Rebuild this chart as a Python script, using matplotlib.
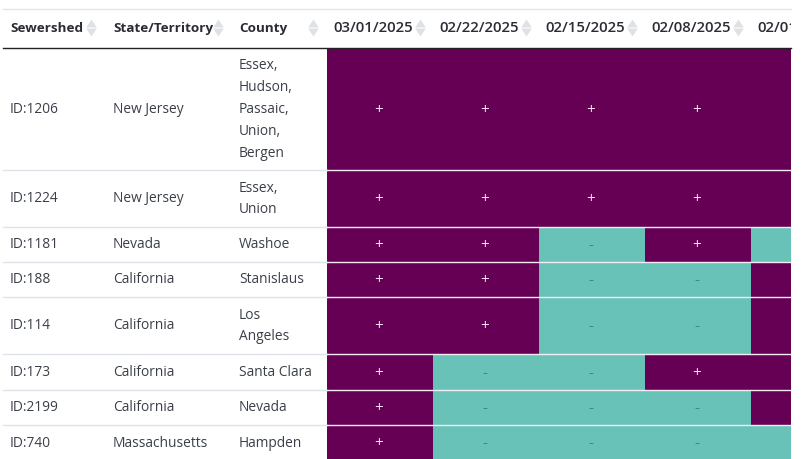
import matplotlib.pyplot as plt
from matplotlib.patches import Rectangle

plt.rcParams['font.family'] = ['Open Sans', 'DejaVu Sans']

columns = ['Sewershed', 'State/Territory', 'County']
dates = ['03/01/2025', '02/22/2025', '02/15/2025', '02/08/2025', '02/01/2025']
sewersheds = ['ID:1206', 'ID:1224', 'ID:1181', 'ID:188', 'ID:114', 'ID:173', 'ID:2199', 'ID:740']
states = ['New Jersey', 'New Jersey', 'Nevada', 'California', 'California',
          'California', 'California', 'Massachusetts']
counties = ['Essex,\nHudson,\nPassaic,\nUnion,\nBergen', 'Essex,\nUnion', 'Washoe', 'Stanislaus',
            'Los\nAngeles', 'Santa Clara', 'Nevada', 'Hampden']
results = [
    ['+', '+', '+', '+', '+'],
    ['+', '+', '+', '+', '+'],
    ['+', '+', '-', '+', '-'],
    ['+', '+', '-', '-', '+'],
    ['+', '+', '-', '-', '+'],
    ['+', '-', '-', '+', '+'],
    ['+', '-', '-', '-', '+'],
    ['+', '-', '-', '-', '-'],
]

# layout in pixels
row_edges = [48.5, 170.5, 227.5, 262.5, 297.5, 354.5, 390.5, 425.5, 461]
text_x = [10, 113, 239]
arrow_x = [91, 218, 313]
date_left = 327
date_w = 106
right = 791
pos_color = '#660055'
neg_color = '#69c2b8'

fig = plt.figure(figsize=(8.05, 4.6), dpi=100)
ax = fig.add_axes([0, 0, 1, 1])
ax.set_xlim(0, 805)
ax.set_ylim(460, 0)
ax.axis('off')
clip = Rectangle((0, 0), right, 460, transform=ax.transData)

up = [(-0.67, 0), (0.67, 0), (0, 1)]
down = [(-0.67, 0), (0.67, 0), (0, -1)]


def sort_arrows(x):
    ax.plot([x], [28], marker=up, ms=11.5, color='#dfe2e5', mew=0, ls='none')
    ax.plot([x], [29], marker=down, ms=11.5, color='#dfe2e5', mew=0, ls='none')


ax.plot([3, right], [9.5, 9.5], color='#e4e4e4', lw=1)

for name, x, ax_x in zip(columns, text_x, arrow_x):
    ax.text(x, 28.5, name, fontsize=9.7, fontweight='bold', color='#2b2b33', va='center')
    sort_arrows(ax_x)

for i, d in enumerate(dates):
    x = date_left + date_w * i
    t = ax.text(x + 6.5, 28.5, d, fontsize=10.7, fontweight='semibold', color='#2b2b33', va='center')
    t.set_clip_on(True)
    t.set_clip_path(clip)
    if i < 4:
        sort_arrows(x + 93)

for r, row in enumerate(results):
    top, bottom = row_edges[r], row_edges[r + 1]
    mid = (top + bottom) / 2
    ax.text(text_x[0], mid, sewersheds[r], fontsize=9.9, color='#3a3f48', va='center')
    ax.text(text_x[1], mid, states[r], fontsize=9.9, color='#3a3f48', va='center')
    ax.text(text_x[2], mid, counties[r], fontsize=9.9, color='#3a3f48', va='center', linespacing=1.63)
    for c, val in enumerate(row):
        x = date_left + date_w * c
        w = min(date_w, right - x)
        color = pos_color if val == '+' else neg_color
        ax.add_patch(Rectangle((x, top), w, bottom - top, facecolor=color, edgecolor='none'))
        if x + date_w <= right:
            ax.text(x + date_w / 2 - 1, mid + 0.7, val, fontsize=11, ha='center', va='center',
                    color='#f9e0f4' if val == '+' else '#2d8f85')
    if r > 0:
        ax.plot([3, date_left], [top, top], color='#dde3e8', lw=1, zorder=3)
        ax.plot([date_left, right], [top, top], color='#f4eef4', lw=1, zorder=3)

ax.plot([3, right], [48.5, 48.5], color='#222222', lw=1, zorder=3)

fig.savefig('out.png', dpi=100)
